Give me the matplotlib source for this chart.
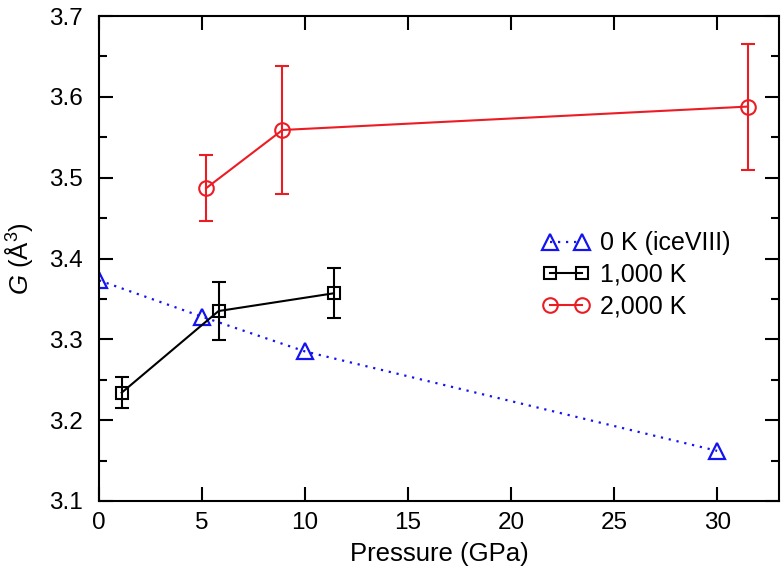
import matplotlib
matplotlib.use("Agg")
import matplotlib.pyplot as plt
from matplotlib.ticker import MultipleLocator

plt.rcParams['font.family'] = ['Liberation Sans', 'DejaVu Sans']
plt.rcParams['mathtext.fontset'] = 'custom'
plt.rcParams['mathtext.rm'] = 'Liberation Sans'
plt.rcParams['mathtext.it'] = 'Liberation Sans:italic'

# 0 K (ice VIII)
p_0k = [0, 5, 10, 30]
g_0k = [3.373, 3.328, 3.285, 3.162]

# 1,000 K
p_1000k = [1.1, 5.8, 11.4]
g_1000k = [3.234, 3.335, 3.357]
err_1000k = [0.019, 0.036, 0.031]

# 2,000 K
p_2000k = [5.2, 8.9, 31.5]
g_2000k = [3.487, 3.559, 3.588]
err_2000k = [0.041, 0.079, 0.078]

fig = plt.figure(figsize=(7.81, 5.73), dpi=100)
ax = fig.add_axes([0.1268, 0.1257, 0.8706, 0.8463])

blue = '#1414f0'
red = '#ec1c24'

l0, = ax.plot(p_0k, g_0k, color=blue, linestyle=(0, (1, 2.6)), linewidth=1.6,
              marker='^', markersize=11, markerfacecolor='none',
              markeredgewidth=1.6, label='0 K (iceVIII)')
eb1 = ax.errorbar(p_1000k, g_1000k, yerr=err_1000k, color='black', linewidth=1.5,
                  marker='s', markersize=9, markerfacecolor='none',
                  markeredgewidth=1.5, capsize=5, capthick=1.5, elinewidth=1.5)
eb2 = ax.errorbar(p_2000k, g_2000k, yerr=err_2000k, color=red, linewidth=1.5,
                  marker='o', markersize=10.5, markerfacecolor='none',
                  markeredgewidth=1.5, capsize=5, capthick=1.5, elinewidth=1.5)

ax.set_xlim(0, 33)
ax.set_ylim(3.1, 3.7)
ax.xaxis.set_major_locator(MultipleLocator(5))
ax.yaxis.set_major_locator(MultipleLocator(0.1))
ax.yaxis.set_minor_locator(MultipleLocator(0.05))
ax.tick_params(which='both', direction='in', top=True, right=True,
               labelsize=17.5, width=1.5)
ax.tick_params(which='major', length=10)
ax.tick_params(which='minor', length=6)
ax.tick_params(axis='x', pad=8)
ax.tick_params(axis='y', pad=12)
for s in ax.spines.values():
    s.set_linewidth(1.5)

ax.set_xlabel('Pressure (GPa)', fontsize=18.5, labelpad=6)
ax.set_ylabel(r'$G$ (Å$^3$)', fontsize=18.5, labelpad=10)

ax.legend([l0, eb1.lines[0], eb2.lines[0]],
          ['0 K (iceVIII)', '1,000 K', '2,000 K'],
          frameon=False, fontsize=18, loc='center left',
          bbox_to_anchor=(0.652, 0.466), numpoints=2, handlelength=1.88,
          handletextpad=0.42, labelspacing=0.3, borderpad=0, borderaxespad=0)

fig.savefig('out.png', dpi=100)
